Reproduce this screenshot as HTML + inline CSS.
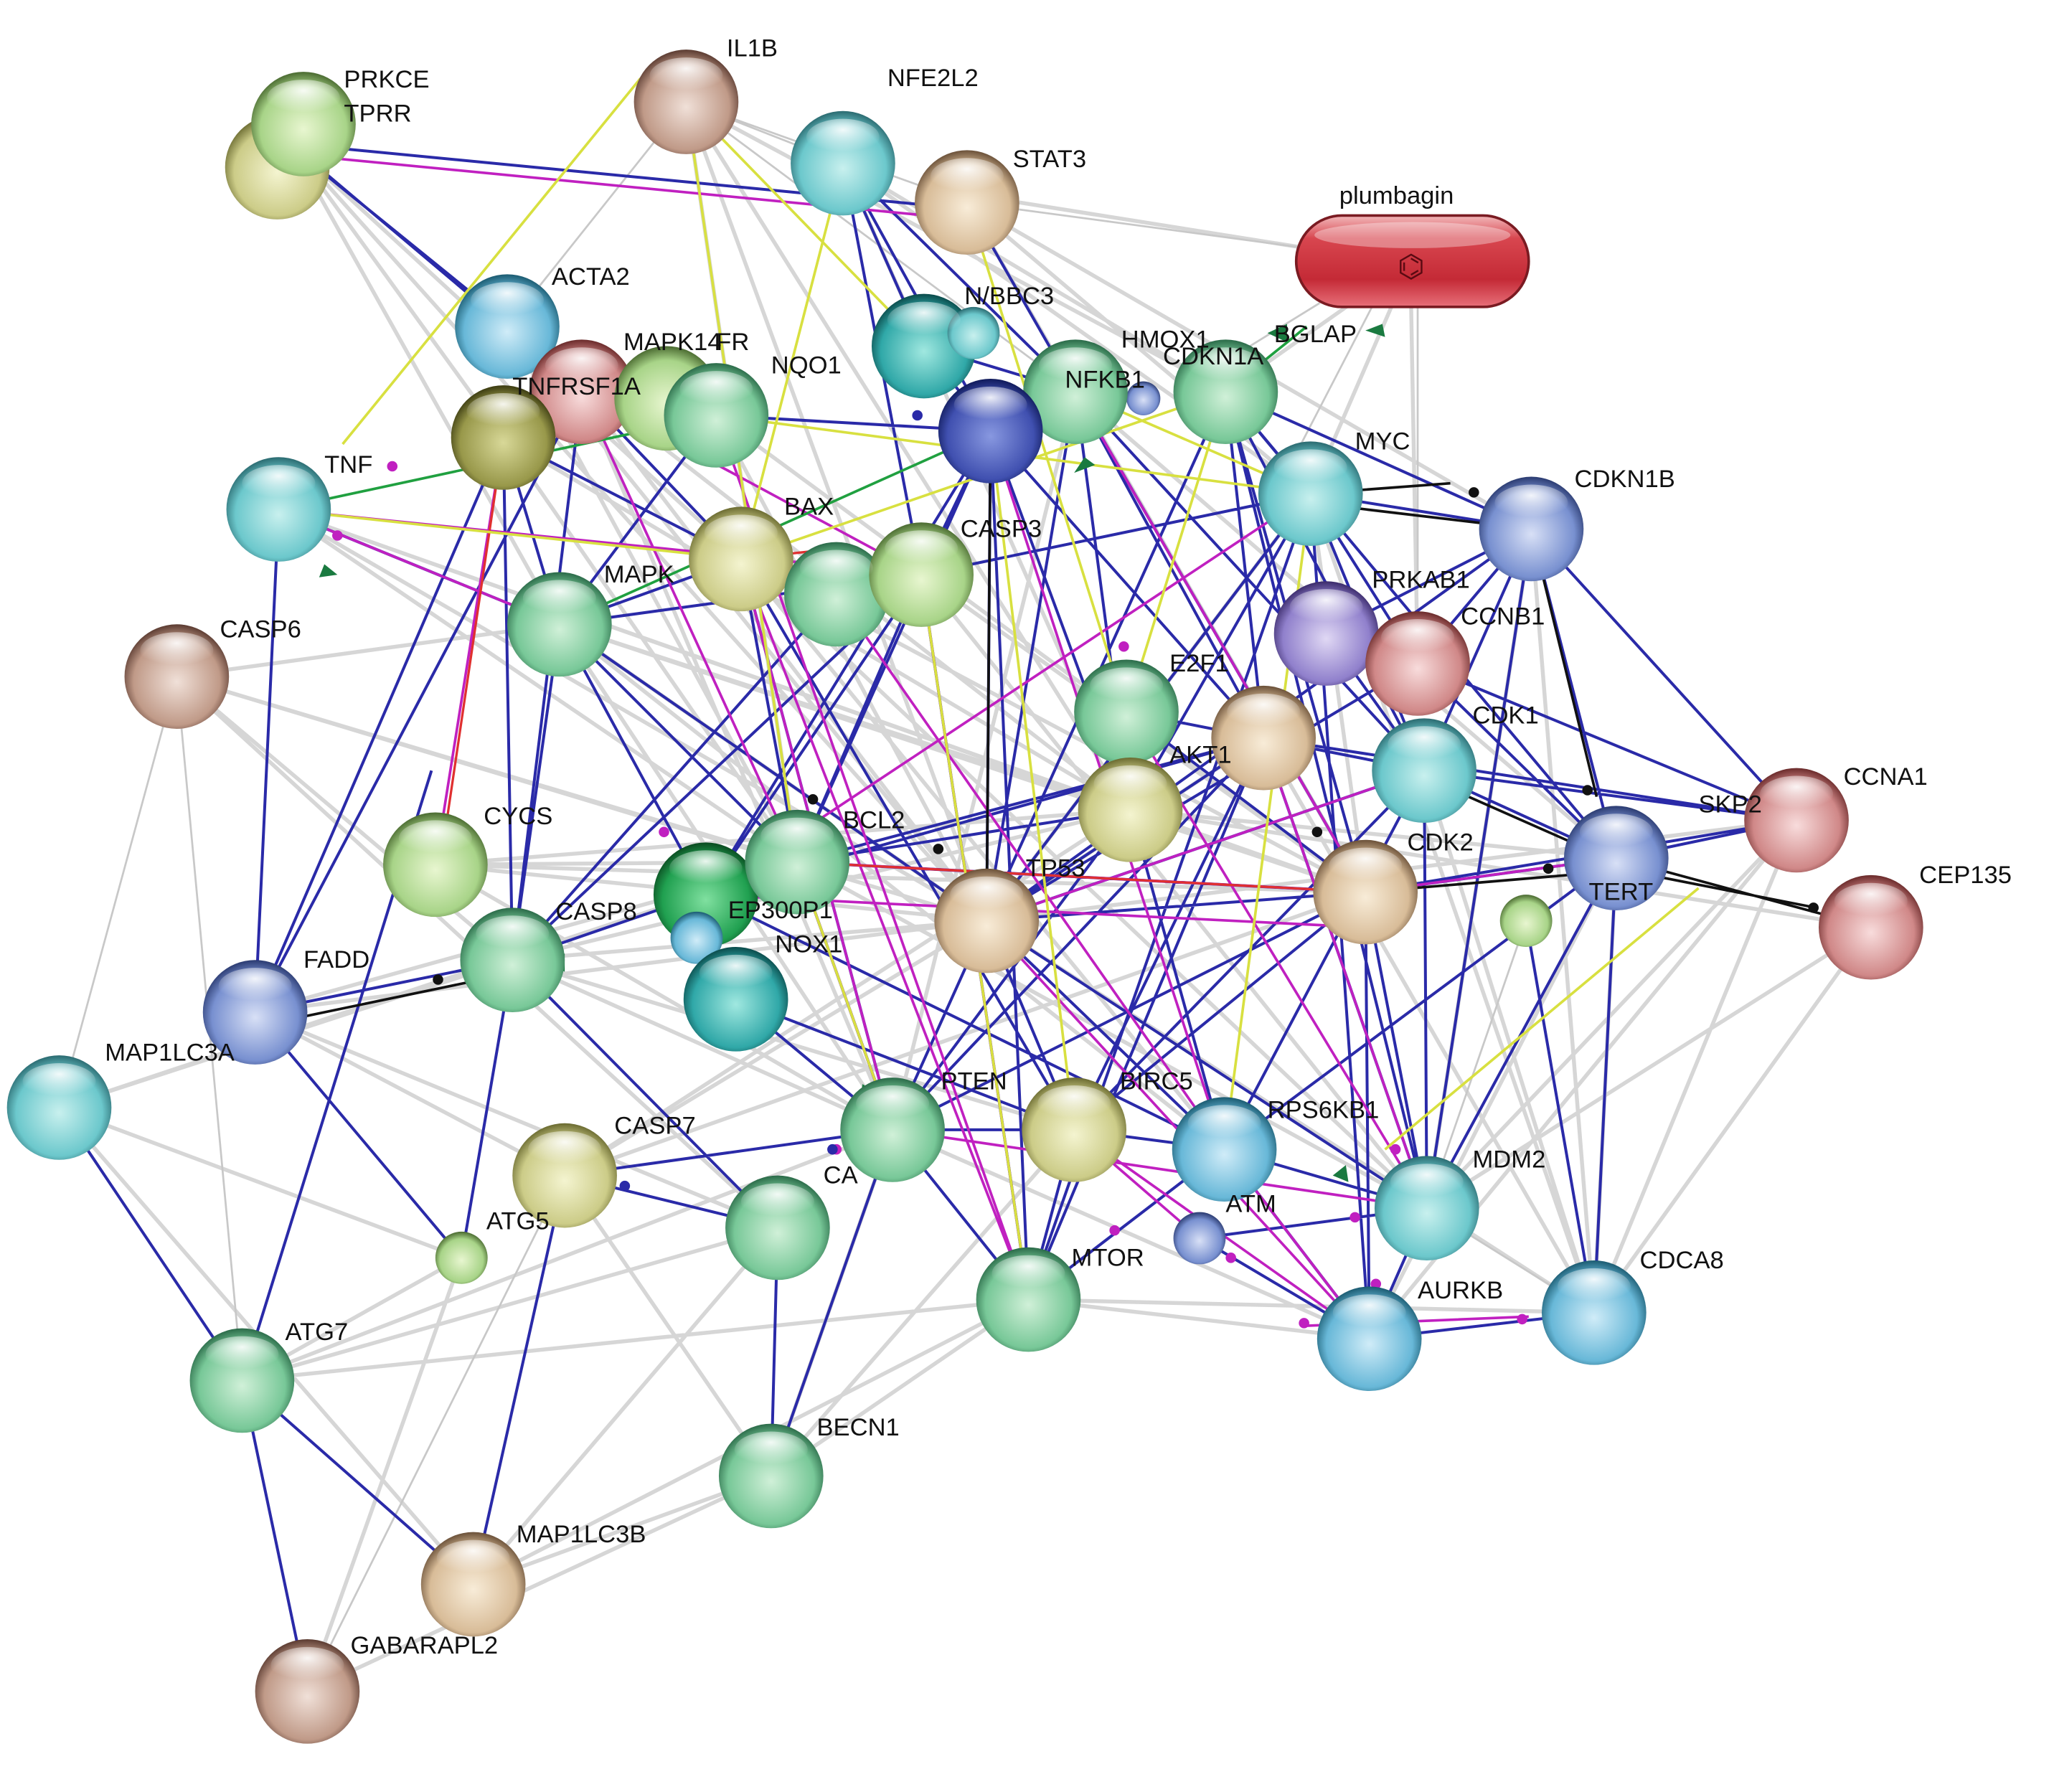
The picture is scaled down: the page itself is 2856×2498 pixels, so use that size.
<!DOCTYPE html>
<html><head><meta charset="utf-8"><style>
html,body{margin:0;padding:0;background:#fff;}
svg{display:block}
text{font-family:"Liberation Sans",Arial,sans-serif;font-size:19px;fill:#111;}
</style></head><body>
<svg width="2856" height="2498" viewBox="0 0 1568 1372" xmlns="http://www.w3.org/2000/svg">
<defs>
<linearGradient id="pl" x1="0" y1="0" x2="0" y2="1"><stop offset="0" stop-color="#f2b9bb"/><stop offset="0.25" stop-color="#d8464f"/><stop offset="0.7" stop-color="#c42a36"/><stop offset="1" stop-color="#e8707a"/></linearGradient>
<radialGradient id="hl" cx="0.5" cy="0.3" r="0.6"><stop offset="0" stop-color="#fff" stop-opacity="0.9"/><stop offset="1" stop-color="#fff" stop-opacity="0"/></radialGradient>
<radialGradient id="gB" cx="0.5" cy="0.55" r="0.55"><stop offset="0" stop-color="#c8f0ee"/><stop offset="0.75" stop-color="#6cc8cc"/><stop offset="1" stop-color="#2a6a70"/></radialGradient>
<radialGradient id="gG" cx="0.5" cy="0.55" r="0.55"><stop offset="0" stop-color="#d0f0d8"/><stop offset="0.75" stop-color="#78c898"/><stop offset="1" stop-color="#2a6a48"/></radialGradient>
<radialGradient id="gY" cx="0.5" cy="0.55" r="0.55"><stop offset="0" stop-color="#f4f4d0"/><stop offset="0.75" stop-color="#cccc88"/><stop offset="1" stop-color="#6a6a30"/></radialGradient>
<radialGradient id="gL" cx="0.5" cy="0.55" r="0.55"><stop offset="0" stop-color="#e8f6d0"/><stop offset="0.75" stop-color="#a8d488"/><stop offset="1" stop-color="#4a6a30"/></radialGradient>
<radialGradient id="gBr" cx="0.5" cy="0.55" r="0.55"><stop offset="0" stop-color="#f0e0d8"/><stop offset="0.75" stop-color="#c09a88"/><stop offset="1" stop-color="#5a3a30"/></radialGradient>
<radialGradient id="gT" cx="0.5" cy="0.55" r="0.55"><stop offset="0" stop-color="#f8ecd8"/><stop offset="0.75" stop-color="#d8bc98"/><stop offset="1" stop-color="#6a5038"/></radialGradient>
<radialGradient id="gP" cx="0.5" cy="0.55" r="0.55"><stop offset="0" stop-color="#d8e0f6"/><stop offset="0.75" stop-color="#7890d0"/><stop offset="1" stop-color="#2a3a70"/></radialGradient>
<radialGradient id="gV" cx="0.5" cy="0.55" r="0.55"><stop offset="0" stop-color="#e0d8f4"/><stop offset="0.75" stop-color="#9080cc"/><stop offset="1" stop-color="#3a2a6a"/></radialGradient>
<radialGradient id="gR" cx="0.5" cy="0.55" r="0.55"><stop offset="0" stop-color="#f8dcdc"/><stop offset="0.75" stop-color="#d08888"/><stop offset="1" stop-color="#6a2a2a"/></radialGradient>
<radialGradient id="gO" cx="0.5" cy="0.55" r="0.55"><stop offset="0" stop-color="#d8d898"/><stop offset="0.75" stop-color="#98984a"/><stop offset="1" stop-color="#3a3a10"/></radialGradient>
<radialGradient id="gDB" cx="0.5" cy="0.55" r="0.55"><stop offset="0" stop-color="#8898e0"/><stop offset="0.75" stop-color="#4050b0"/><stop offset="1" stop-color="#101a5a"/></radialGradient>
<radialGradient id="gDG" cx="0.5" cy="0.55" r="0.55"><stop offset="0" stop-color="#80e0a0"/><stop offset="0.75" stop-color="#20a050"/><stop offset="1" stop-color="#0a4a20"/></radialGradient>
<radialGradient id="gC" cx="0.5" cy="0.55" r="0.55"><stop offset="0" stop-color="#d0ecf8"/><stop offset="0.75" stop-color="#68b8d8"/><stop offset="1" stop-color="#1a5a70"/></radialGradient>
<radialGradient id="gTe" cx="0.5" cy="0.55" r="0.55"><stop offset="0" stop-color="#a0e8e0"/><stop offset="0.75" stop-color="#30a8a8"/><stop offset="1" stop-color="#0a4a4a"/></radialGradient>
</defs>

<!-- grey edges -->
<path fill="none" stroke="#cfcfcf" stroke-width="3" stroke-opacity="0.85" d="
M135 518 L428 478 M135 518 L610 660 M135 518 L392 735 M135 518 L595 940 M135 518 L755 705
M213 390 L755 705 M213 390 L865 620 M213 390 L610 660 M213 390 L1045 683
M222 110 L428 478 M222 110 L567 428 M222 110 L755 705 M222 110 L385 335
M388 250 L755 705 M388 250 L865 620 M388 250 L610 660
M428 478 L865 620 M428 478 L1045 683 M428 478 L755 705 M428 478 L683 865 M428 478 L937 880
M333 662 L755 705 M333 662 L865 620 M333 662 L1045 683 M333 662 L610 660 M333 662 L683 865
M392 735 L755 705 M392 735 L865 620 M392 735 L683 865 M392 735 L822 865
M185 1057 L595 940 M185 1057 L787 995 M185 1057 L683 865 M185 1057 L353 963
M362 1213 L590 1130 M362 1213 L595 940 M362 1213 L787 995 M362 1213 L45 848
M235 1295 L590 1130 M235 1295 L353 963
M45 848 L392 735 M45 848 L353 963 M45 848 L610 660
M590 1130 L787 995 M590 1130 L822 865 M590 1130 L432 900 M590 1130 L683 865
M432 900 L755 705 M432 900 L865 620 M432 900 L1045 683
M525 78 L755 705 M525 78 L865 620 M525 78 L610 660 M525 78 L938 300
M645 125 L1003 378 M645 125 L865 620 M645 125 L938 300
M740 155 L1003 378 M740 155 L1172 405 M740 155 L1045 683
M1003 378 L1045 683 M1003 378 L755 705 M1003 378 L1220 1005
M1172 405 L1220 1005 M1172 405 L1092 925 M1090 590 L1220 1005 M1237 657 L1220 1005
M1375 628 L1220 1005 M1432 710 L1220 1005 M1432 710 L1092 925 M1375 628 L1092 925
M1048 1025 L1237 657 M1048 1025 L1375 628 M1092 925 L1432 710
M787 995 L1220 1005 M787 995 L1048 1025 M683 865 L1048 1025
M1080 200 L1003 378 M1080 200 L938 300 M1080 235 L1085 508 M1000 190 L780 155
M567 428 L1045 683 M567 428 L937 880 M567 428 L1092 925 M610 660 L1092 925
M755 705 L1220 1005 M755 705 L1375 628 M865 620 L1237 657 M865 620 L1432 710
M967 565 L1220 1005 M967 565 L755 705 M823 300 L1237 657 M823 300 L683 865
M548 318 L755 705 M548 318 L1045 683 M445 300 L755 705 M445 300 L683 865
M385 335 L610 660 M385 335 L865 620 M705 440 L1045 683 M705 440 L1092 925
M195 775 L610 660 M195 775 L755 705 M195 775 L595 940 M195 775 L432 900
"/>
<!-- thin grey -->
<path fill="none" stroke="#c8c8c8" stroke-width="1.5" d="
M740 155 L1000 190 M1085 235 L1085 440 M1010 232 L900 300 M1050 235 L975 380
M45 848 L185 1057 M135 518 L185 1057 M135 518 L45 848 M235 1295 L432 900 M235 1295 L185 1057
M525 78 L645 125 M525 78 L388 250 M525 78 L740 155 M645 125 L823 300 M525 78 L823 300
M1092 925 L1220 1005 M1237 657 L1432 710 M1168 705 L1220 1005 M1168 705 L1092 925
"/>
<!-- blue edges -->
<path fill="none" stroke="#2a2aa8" stroke-width="2.2" d="
M222 110 L388 250 M232 120 L380 240 M222 110 L740 160 M45 848 L185 1057 M185 1057 L235 1295 M185 1057 L362 1213
M362 1213 L432 900 M185 1057 L330 590 M195 775 L353 963 M353 963 L392 735 M195 775 L392 735 M195 775 L213 390
M195 775 L385 335 M195 775 L445 300 M392 735 L385 335 M392 735 L428 478 M392 735 L445 300 M392 735 L595 940
M432 900 L595 940 M432 900 L683 865 M590 1130 L595 940 M590 1130 L683 865 M787 995 L683 865 M787 995 L822 865
M787 995 L758 330 M787 995 L705 440 M787 995 L967 565 M787 995 L1003 378 M787 995 L937 880
M1048 1025 L1092 925 M1048 1025 L1220 1005 M1048 1025 L937 880 M1048 1025 L1045 683 M1048 1025 L1003 378
M1092 925 L1045 683 M1092 925 L1090 590 M1092 925 L1172 405 M1092 925 L938 300 M1092 925 L1237 657
M1220 1005 L1168 705 M1220 1005 L1237 657
M1375 628 L1090 590 M1375 628 L1045 683 M1375 628 L1172 405 M1375 628 L1237 657 M1375 628 L967 565 M1375 628 L1085 508
M1172 405 L1090 590 M1172 405 L1237 657 M1172 405 L1003 378 M1172 405 L755 705 M1172 405 L1015 485
M1090 590 L755 705 M1090 590 L938 300 M1090 590 L823 300 M1090 590 L862 545 M1090 590 L1237 657
M1045 683 L755 705 M1045 683 L938 300 M1045 683 L823 300 M1045 683 L1237 657 M1045 683 L610 660 M1045 683 L862 545
M755 705 L823 300 M755 705 L938 300 M755 705 L1003 378 M755 705 L758 330 M755 705 L967 565 M755 705 L937 880
M755 705 L683 865 M755 705 L822 865 M755 705 L428 478 M755 705 L1092 925 M755 705 L1085 508
M865 620 L758 330 M865 620 L823 300 M865 620 L1003 378 M865 620 L683 865 M865 620 L937 880 M865 620 L610 660
M967 565 L823 300 M967 565 L938 300 M967 565 L683 865 M967 565 L610 660 M967 565 L1092 925 M967 565 L540 685
M610 660 L705 440 M610 660 L567 428 M610 660 L758 330 M610 660 L428 478 M610 660 L392 735 M610 660 L683 865
M540 685 L705 440 M540 685 L428 478 M540 685 L758 330 M540 685 L937 880 M563 765 L683 865 M563 765 L822 865
M705 440 L428 478 M705 440 L392 735 M705 440 L758 330 M705 440 L645 125 M705 440 L1003 378 M640 455 L392 735
M567 428 L428 478 M567 428 L385 335 M567 428 L683 865 M567 428 L822 865 M567 428 L445 300
M428 478 L385 335 M428 478 L548 318 M428 478 L213 390 M428 478 L392 735
M823 300 L645 125 M823 300 L707 265 M823 300 L740 155 M938 300 L1003 378 M938 300 L1172 405 M938 300 L1237 657
M707 265 L645 125 M707 265 L758 330 M758 330 L645 125 M758 330 L548 318 M758 330 L967 565
M822 865 L937 880 M822 865 L967 565 M822 865 L1045 683 M822 865 L1090 590 M683 865 L822 865 M683 865 L1045 683
M937 880 L1092 925 M937 880 L1090 590 M937 880 L1237 657 M918 948 L1092 925 M918 948 L1048 1025
M1003 378 L1090 590 M1003 378 L1085 508 M1015 485 L1090 590 M1085 508 L1172 405 M1085 508 L1237 657
"/>
<!-- magenta edges -->
<path fill="none" stroke="#c020c0" stroke-width="2" d="
M222 118 L740 168 M213 390 L428 478 M213 390 L705 440 M445 300 L705 440 M567 428 L683 865 M610 660 L683 865
M755 705 L1048 1025 M822 865 L1048 1025 M705 440 L787 995 M823 300 L1045 683 M548 318 L787 995 M758 330 L937 880
M967 565 L1092 925 M862 545 L1092 925 M1090 590 L755 705 M610 660 L1045 683 M1045 683 L1237 657 M640 455 L937 880
M540 685 L1003 378 M385 335 L333 662 M540 685 L1045 710 M683 865 L1092 925 M1000 1015 L1170 1008 M937 880 L1048 1025
M445 300 L610 660 M567 428 L787 995 M822 865 L918 948
"/>
<!-- red -->
<path fill="none" stroke="#e03030" stroke-width="1.8" d="M385 335 L340 640 M610 660 L1045 683 M567 428 L640 420"/>
<!-- yellow edges -->
<path fill="none" stroke="#d8e040" stroke-width="2" d="
M490 60 L262 340 M525 78 L707 265 M525 78 L610 660 M740 155 L862 545 M645 125 L567 428 M213 390 L567 428
M1300 680 L1060 880 M823 300 L1003 378 M548 318 L1003 378 M705 440 L787 995 M758 330 L822 865 M938 300 L862 545
M1003 378 L937 880 M610 660 L683 865 M567 428 L938 300
"/>
<!-- green -->
<path fill="none" stroke="#20a040" stroke-width="2" d="M213 390 L548 318 M428 478 L758 330 M938 300 L1000 250"/>
<!-- black edges -->
<path fill="none" stroke="#111" stroke-width="2" d="
M1003 385 L1172 405 M1172 405 L1222 610 M1090 595 L1237 660 M1237 657 L1432 710 M1237 665 L1390 695
M200 785 L392 745 M758 330 L755 705 M610 660 L610 700 M1045 683 L1200 670 M1003 378 L1110 370
"/>
<!-- arrowheads / dots -->
<g fill="#1a7a40">
<polygon points="1060,258 1045,253 1058,248"/><polygon points="985,248 970,255 985,262"/><polygon points="830,350 822,362 838,356"/>
<polygon points="640,422 652,418 644,430"/><polygon points="660,830 672,838 658,842"/><polygon points="248,432 258,440 244,442"/>
<polygon points="690,860 698,848 702,862"/><polygon points="1020,900 1030,892 1032,905"/><polygon points="420,738 432,730 432,744"/>
</g>
<g fill="#c020c0">
<circle cx="258" cy="410" r="4"/><circle cx="300" cy="357" r="4"/><circle cx="508" cy="637" r="4"/><circle cx="853" cy="942" r="4"/>
<circle cx="1037" cy="932" r="4"/><circle cx="1053" cy="983" r="4"/><circle cx="942" cy="963" r="4"/><circle cx="998" cy="1013" r="4"/>
<circle cx="1165" cy="1010" r="4"/><circle cx="1068" cy="880" r="4"/><circle cx="640" cy="880" r="4"/><circle cx="860" cy="495" r="4"/>
</g>
<g fill="#111">
<circle cx="1128" cy="377" r="4"/><circle cx="1215" cy="605" r="4"/><circle cx="1388" cy="695" r="4"/><circle cx="335" cy="750" r="4"/>
<circle cx="718" cy="650" r="4"/><circle cx="1008" cy="637" r="4"/><circle cx="1185" cy="665" r="4"/><circle cx="622" cy="612" r="4"/>
</g>
<g fill="#2a2aa8"><circle cx="478" cy="908" r="4"/><circle cx="702" cy="318" r="4"/><circle cx="637" cy="880" r="4"/></g>

<!-- plumbagin -->
<rect x="992" y="165" width="178" height="70" rx="35" fill="url(#pl)" stroke="#7a1b22" stroke-width="2"/>
<ellipse cx="1081" cy="180" rx="75" ry="10" fill="#fff" fill-opacity="0.35"/>
<text x="1080" y="212" text-anchor="middle" style="font-size:24px;fill:#5a0a12">⌬</text>

<!-- nodes -->
<g stroke="none">
<circle cx="212" cy="128" r="40" fill="url(#gY)"/><circle cx="232" cy="95" r="40" fill="url(#gL)"/>
<circle cx="525" cy="78" r="40" fill="url(#gBr)"/>
<circle cx="645" cy="125" r="40" fill="url(#gB)"/>
<circle cx="740" cy="155" r="40" fill="url(#gT)"/>
<circle cx="388" cy="250" r="40" fill="url(#gC)"/>
<circle cx="707" cy="265" r="40" fill="url(#gTe)"/><circle cx="745" cy="255" r="20" fill="url(#gB)"/>
<circle cx="875" cy="305" r="13" fill="url(#gP)"/>
<circle cx="938" cy="300" r="40" fill="url(#gG)"/>
<circle cx="823" cy="300" r="40" fill="url(#gG)"/>
<circle cx="445" cy="300" r="40" fill="url(#gR)"/>
<circle cx="510" cy="305" r="40" fill="url(#gL)"/>
<circle cx="548" cy="318" r="40" fill="url(#gG)"/>
<circle cx="385" cy="335" r="40" fill="url(#gO)"/>
<circle cx="213" cy="390" r="40" fill="url(#gB)"/>
<circle cx="758" cy="330" r="40" fill="url(#gDB)"/>
<circle cx="1003" cy="378" r="40" fill="url(#gB)"/>
<circle cx="1172" cy="405" r="40" fill="url(#gP)"/>
<circle cx="567" cy="428" r="40" fill="url(#gY)"/>
<circle cx="640" cy="455" r="40" fill="url(#gG)"/>
<circle cx="705" cy="440" r="40" fill="url(#gL)"/>
<circle cx="428" cy="478" r="40" fill="url(#gG)"/>
<circle cx="135" cy="518" r="40" fill="url(#gBr)"/>
<circle cx="1015" cy="485" r="40" fill="url(#gV)"/>
<circle cx="1085" cy="508" r="40" fill="url(#gR)"/>
<circle cx="862" cy="545" r="40" fill="url(#gG)"/>
<circle cx="967" cy="565" r="40" fill="url(#gT)"/>
<circle cx="1090" cy="590" r="40" fill="url(#gB)"/>
<circle cx="1375" cy="628" r="40" fill="url(#gR)"/>
<circle cx="333" cy="662" r="40" fill="url(#gL)"/>
<circle cx="540" cy="685" r="40" fill="url(#gDG)"/>
<circle cx="610" cy="660" r="40" fill="url(#gG)"/>
<circle cx="865" cy="620" r="40" fill="url(#gY)"/>
<circle cx="755" cy="705" r="40" fill="url(#gT)"/>
<circle cx="1045" cy="683" r="40" fill="url(#gT)"/>
<circle cx="1237" cy="657" r="40" fill="url(#gP)"/>
<circle cx="1168" cy="705" r="20" fill="url(#gL)"/>
<circle cx="1432" cy="710" r="40" fill="url(#gR)"/>
<circle cx="392" cy="735" r="40" fill="url(#gG)"/>
<circle cx="195" cy="775" r="40" fill="url(#gP)"/>
<circle cx="533" cy="718" r="20" fill="url(#gC)"/>
<circle cx="563" cy="765" r="40" fill="url(#gTe)"/>
<circle cx="45" cy="848" r="40" fill="url(#gB)"/>
<circle cx="683" cy="865" r="40" fill="url(#gG)"/>
<circle cx="822" cy="865" r="40" fill="url(#gY)"/>
<circle cx="937" cy="880" r="40" fill="url(#gC)"/>
<circle cx="1092" cy="925" r="40" fill="url(#gB)"/>
<circle cx="432" cy="900" r="40" fill="url(#gY)"/>
<circle cx="595" cy="940" r="40" fill="url(#gG)"/>
<circle cx="918" cy="948" r="20" fill="url(#gP)"/>
<circle cx="353" cy="963" r="20" fill="url(#gL)"/>
<circle cx="787" cy="995" r="40" fill="url(#gG)"/>
<circle cx="1048" cy="1025" r="40" fill="url(#gC)"/>
<circle cx="1220" cy="1005" r="40" fill="url(#gC)"/>
<circle cx="185" cy="1057" r="40" fill="url(#gG)"/>
<circle cx="590" cy="1130" r="40" fill="url(#gG)"/>
<circle cx="362" cy="1213" r="40" fill="url(#gT)"/>
<circle cx="235" cy="1295" r="40" fill="url(#gBr)"/>
</g>
<!-- highlights -->
<g fill="url(#hl)">
<ellipse cx="232" cy="75" rx="28" ry="14"/><ellipse cx="525" cy="58" rx="28" ry="14"/><ellipse cx="645" cy="105" rx="28" ry="14"/>
<ellipse cx="740" cy="135" rx="28" ry="14"/><ellipse cx="388" cy="230" rx="28" ry="14"/><ellipse cx="707" cy="245" rx="28" ry="14"/>
<ellipse cx="938" cy="280" rx="28" ry="14"/><ellipse cx="823" cy="280" rx="28" ry="14"/><ellipse cx="548" cy="298" rx="28" ry="14"/>
<ellipse cx="385" cy="315" rx="28" ry="14"/><ellipse cx="213" cy="370" rx="28" ry="14"/><ellipse cx="758" cy="310" rx="28" ry="14"/>
<ellipse cx="1003" cy="358" rx="28" ry="14"/><ellipse cx="1172" cy="385" rx="28" ry="14"/><ellipse cx="567" cy="408" rx="28" ry="14"/>
<ellipse cx="705" cy="420" rx="28" ry="14"/><ellipse cx="428" cy="458" rx="28" ry="14"/><ellipse cx="135" cy="498" rx="28" ry="14"/>
<ellipse cx="1015" cy="465" rx="28" ry="14"/><ellipse cx="1085" cy="488" rx="28" ry="14"/><ellipse cx="862" cy="525" rx="28" ry="14"/>
<ellipse cx="967" cy="545" rx="28" ry="14"/><ellipse cx="1090" cy="570" rx="28" ry="14"/><ellipse cx="1375" cy="608" rx="28" ry="14"/>
<ellipse cx="333" cy="642" rx="28" ry="14"/><ellipse cx="610" cy="640" rx="28" ry="14"/><ellipse cx="865" cy="600" rx="28" ry="14"/>
<ellipse cx="755" cy="685" rx="28" ry="14"/><ellipse cx="1045" cy="663" rx="28" ry="14"/><ellipse cx="1237" cy="637" rx="28" ry="14"/>
<ellipse cx="1432" cy="690" rx="28" ry="14"/><ellipse cx="392" cy="715" rx="28" ry="14"/><ellipse cx="195" cy="755" rx="28" ry="14"/>
<ellipse cx="563" cy="745" rx="28" ry="14"/><ellipse cx="45" cy="828" rx="28" ry="14"/><ellipse cx="683" cy="845" rx="28" ry="14"/>
<ellipse cx="822" cy="845" rx="28" ry="14"/><ellipse cx="937" cy="860" rx="28" ry="14"/><ellipse cx="1092" cy="905" rx="28" ry="14"/>
<ellipse cx="432" cy="880" rx="28" ry="14"/><ellipse cx="595" cy="920" rx="28" ry="14"/><ellipse cx="787" cy="975" rx="28" ry="14"/>
<ellipse cx="1048" cy="1005" rx="28" ry="14"/><ellipse cx="1220" cy="985" rx="28" ry="14"/><ellipse cx="185" cy="1037" rx="28" ry="14"/>
<ellipse cx="590" cy="1110" rx="28" ry="14"/><ellipse cx="362" cy="1193" rx="28" ry="14"/><ellipse cx="235" cy="1275" rx="28" ry="14"/>
<ellipse cx="540" cy="665" rx="28" ry="14"/><ellipse cx="445" cy="280" rx="28" ry="14"/><ellipse cx="640" cy="435" rx="28" ry="14"/>
</g>

<g>
<text x="263" y="67">PRKCE</text><text x="263" y="93">TPRR</text>
<text x="556" y="43">IL1B</text><text x="679" y="66">NFE2L2</text>
<text x="775" y="128">STAT3</text><text x="422" y="218">ACTA2</text>
<text x="738" y="233">N/BBC3</text><text x="858" y="266">HMOX1</text>
<text x="975" y="262">BGLAP</text><text x="890" y="279">CDKN1A</text>
<text x="477" y="268">MAPK14</text><text x="548" y="268">FR</text>
<text x="392" y="302">TNFRSF1A</text><text x="590" y="286">NQO1</text>
<text x="815" y="297">NFKB1</text><text x="248" y="362">TNF</text>
<text x="1037" y="344">MYC</text><text x="1205" y="373">CDKN1B</text>
<text x="600" y="394">BAX</text><text x="735" y="411">CASP3</text>
<text x="462" y="446">MAPK</text><text x="168" y="488">CASP6</text>
<text x="1050" y="450">PRKAB1</text><text x="1118" y="478">CCNB1</text>
<text x="895" y="514">E2F1</text><text x="895" y="584">AKT1</text>
<text x="1127" y="554">CDK1</text><text x="1411" y="601">CCNA1</text>
<text x="1300" y="622">SKP2</text><text x="370" y="631">CYCS</text>
<text x="645" y="634">BCL2</text><text x="785" y="671">TP53</text>
<text x="1077" y="651">CDK2</text><text x="1216" y="689">TERT</text>
<text x="1469" y="676">CEP135</text><text x="425" y="704">CASP8</text>
<text x="232" y="741">FADD</text><text x="593" y="729">NOX1</text>
<text x="557" y="703">EP300P1</text>
<text x="80" y="812">MAP1LC3A</text><text x="720" y="834">PTEN</text>
<text x="857" y="834">BIRC5</text><text x="970" y="856">RPS6KB1</text>
<text x="1127" y="894">MDM2</text><text x="470" y="868">CASP7</text>
<text x="630" y="906">CA</text><text x="938" y="928">ATM</text>
<text x="372" y="941">ATG5</text><text x="820" y="969">MTOR</text>
<text x="1085" y="994">AURKB</text><text x="1255" y="971">CDCA8</text>
<text x="218" y="1026">ATG7</text><text x="625" y="1099">BECN1</text>
<text x="395" y="1181">MAP1LC3B</text><text x="268" y="1266">GABARAPL2</text>
<text x="1025" y="156">plumbagin</text>
</g>
</svg>
</body></html>
